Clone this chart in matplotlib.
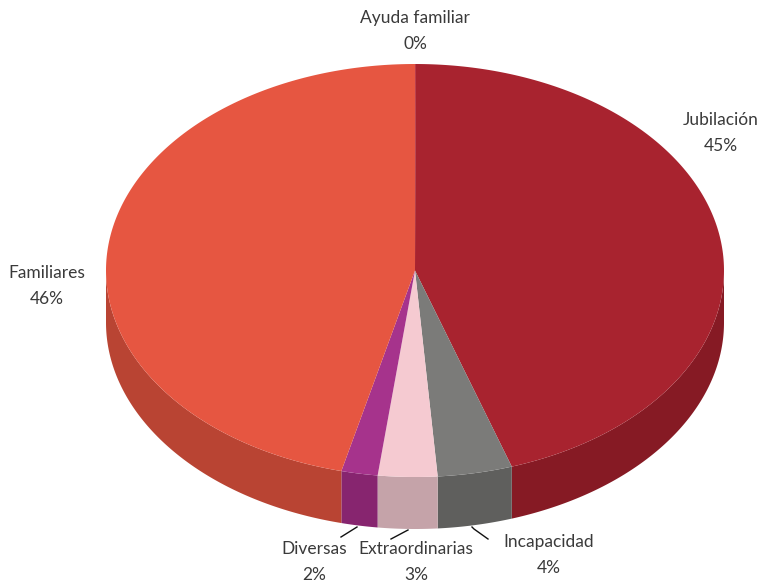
import numpy as np
import matplotlib.pyplot as plt
from matplotlib.patches import Polygon

# Slice data, clockwise from the top
categories = ["Ayuda familiar", "Jubilación", "Incapacidad", "Extraordinarias", "Diversas", "Familiares"]
shares = [0.03, 44.9, 3.9, 3.1, 1.9, 46.17]
pct_labels = ["0%", "45%", "4%", "3%", "2%", "46%"]
top_colors = ["#C94A5A", "#A8232F", "#7B7B79", "#F5CAD1", "#A6338C", "#E65641"]
side_colors = ["#9E3A47", "#861A24", "#5F5F5D", "#C5A3A9", "#87256F", "#B94433"]

# Geometry of the tilted pie (pixels)
CX, CY = 415, 270.5
RX, RY = 309, 206.5
DEPTH = 52

fig = plt.figure(figsize=(7.58, 5.85), dpi=100)
ax = fig.add_axes([0, 0, 1, 1])
ax.set_xlim(0, 758)
ax.set_ylim(585, 0)
ax.axis("off")


def arc(t0, t1, n=200):
    t = np.radians(np.linspace(t0, t1, n))
    return np.column_stack([CX + RX * np.cos(t), CY + RY * np.sin(t)])


total = sum(shares)
bounds = [-90.0]
for s in shares:
    bounds.append(bounds[-1] + 360.0 * s / total)

# side walls (front half only, 0..180 deg in screen coordinates)
for i in range(len(shares)):
    t0, t1 = bounds[i], bounds[i + 1]
    for off in (0, 360):
        a0, a1 = max(t0, 0 + off), min(t1, 180 + off)
        if a1 > a0:
            top = arc(a0, a1)
            bottom = top[::-1] + [0, DEPTH]
            ax.add_patch(Polygon(np.vstack([top, bottom]), closed=True,
                                 facecolor=side_colors[i], edgecolor="none"))

# top faces
for i in range(len(shares)):
    pts = np.vstack([[CX, CY], arc(bounds[i], bounds[i + 1])])
    ax.add_patch(Polygon(pts, closed=True, facecolor=top_colors[i],
                         edgecolor="none"))

# labels
label_pos = {
    "Ayuda familiar": (415, 18),
    "Jubilación": (721, 120),
    "Incapacidad": (549, 542),
    "Extraordinarias": (416, 549),
    "Diversas": (314, 549),
    "Familiares": (47, 273),
}
for name, pct in zip(categories, pct_labels):
    x, y = label_pos[name]
    ax.text(x, y, name, ha="center", va="center", fontsize=12.5,
            family="Lato", color="#3a3a3a")
    ax.text(x, y + 26, pct, ha="center", va="center", fontsize=12.5,
            family="Lato", color="#3a3a3a")

# leader lines
ax.plot([357, 341], [527, 537], color="#111111", lw=1)
ax.plot([408, 391], [530, 539], color="#111111", lw=1)
ax.plot([472, 474, 488], [527, 529, 539], color="#111111", lw=1)

fig.savefig("out.png", dpi=100)
